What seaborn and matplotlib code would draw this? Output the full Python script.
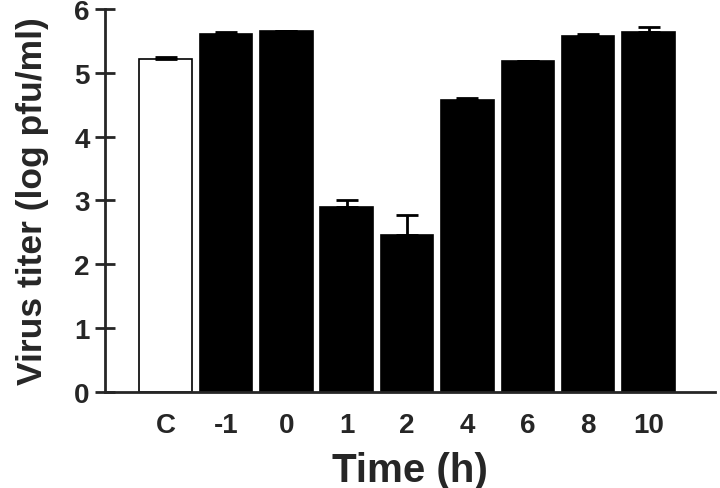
import numpy as np
import matplotlib
matplotlib.use("Agg")
import matplotlib.pyplot as plt
import pandas as pd
import seaborn as sns

# values
times = ["C", "-1", "0", "1", "2", "4", "6", "8", "10"]
titer = [5.22, 5.60, 5.65, 2.89, 2.46, 4.58, 5.18, 5.57, 5.64]
titer_err = [0.02, 0.04, 0.01, 0.12, 0.31, 0.03, 0.0, 0.04, 0.08]
colors = ["white"] + ["black"] * 8

sns.set_style("ticks")
plt.rcParams["font.family"] = ["Liberation Sans", "DejaVu Sans"]
plt.rcParams["font.weight"] = "bold"

df = pd.DataFrame({"time": times, "titer": titer})

fig = plt.figure(figsize=(7.2, 4.89), dpi=100)
ax = fig.add_axes([0.146, 0.196, 0.847, 0.784])

sns.barplot(data=df, x="time", y="titer", hue="time", palette=colors,
            order=times, hue_order=times, legend=False, width=0.87,
            edgecolor="black", linewidth=1.2, errorbar=None, ax=ax)

# upward-only error bars
ax.errorbar(np.arange(len(times)), titer,
            yerr=[np.zeros(len(times)), titer_err],
            fmt="none", ecolor="black", elinewidth=2, capsize=8, capthick=2)

ax.set_xlim(-1.0, 9.1)
ax.set_ylim(0, 6)
ax.set_yticks(range(0, 7))
ax.set_xlabel("Time (h)", fontsize=29, fontweight="bold", labelpad=10)
ax.set_ylabel("Virus titer (log pfu/ml)", fontsize=25.5, fontweight="bold", labelpad=18)

for s in ["top", "right"]:
    ax.spines[s].set_visible(False)
ax.spines["left"].set_linewidth(2)
ax.spines["bottom"].set_linewidth(2)
ax.tick_params(axis="y", direction="inout", length=14, width=2, labelsize=20, pad=4)
ax.tick_params(axis="x", length=0, labelsize=20, pad=14)
for lab in ax.get_xticklabels() + ax.get_yticklabels():
    lab.set_fontweight("bold")

fig.savefig("out.png", dpi=100)
